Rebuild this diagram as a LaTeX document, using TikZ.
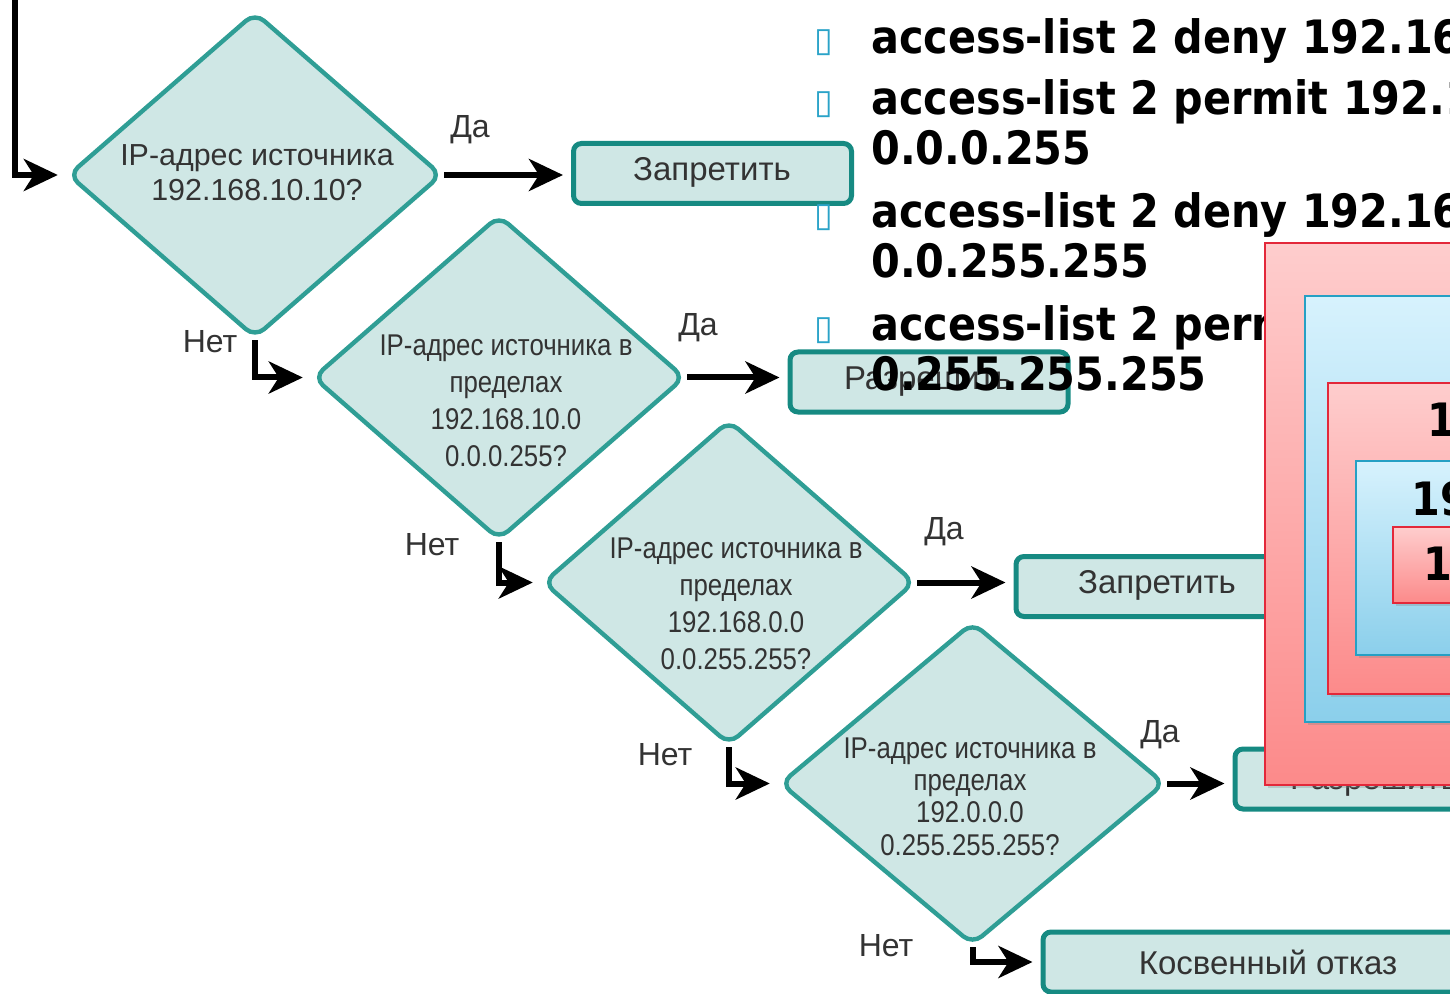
\documentclass[tikz,border=0pt]{standalone}
\usepackage{fontspec}
\setmainfont{Liberation Sans}
\newfontfamily\narrowf[FakeStretch=0.86]{Liberation Sans}
\newfontfamily\aclf[FakeStretch=0.9]{DejaVu Sans}
\newfontfamily\symf{DejaVu Sans}
\usetikzlibrary{shapes.geometric,arrows.meta,shadows}
\definecolor{dfill}{HTML}{CFE7E5}
\definecolor{dline}{HTML}{2F9E95}
\definecolor{bline}{HTML}{168A82}
\definecolor{txt}{HTML}{333333}
\definecolor{redtop}{HTML}{FECDCD}
\definecolor{redbot}{HTML}{FC8A8A}
\definecolor{redline}{HTML}{E3283A}
\definecolor{bluetop}{HTML}{D7F2FD}
\definecolor{bluebot}{HTML}{8BCFEB}
\definecolor{blueline}{HTML}{26A0C4}
\definecolor{bulletc}{HTML}{2AA3C8}
\begin{document}
\begin{tikzpicture}[x=0.5pt,y=-0.5pt,
  decision/.style={diamond, draw=dline, line width=2.2pt, fill=dfill, rounded corners=6pt, inner sep=0pt},
  dtext/.style={text=txt, align=center, inner sep=0pt, font=\fontsize{15}{18.5}\selectfont\narrowf},
  outbox/.style={draw=bline, line width=2.5pt, fill=dfill, rounded corners=4pt, inner sep=0pt,
     minimum width=139pt, minimum height=30pt},
  btext/.style={text=txt, inner sep=0pt, font=\fontsize{16.5}{19}\selectfont},
  flow/.style={line width=3pt, -{Stealth[length=17pt,width=16pt,inset=5pt]}, shorten >=4pt},
  ans/.style={text=txt, font=\fontsize{16}{18}\selectfont, inner sep=0pt},
  acl/.style={anchor=base west, inner sep=0pt, font=\fontsize{23}{25}\selectfont\aclf\bfseries},
  bul/.style={anchor=base west, inner sep=0pt, text=bulletc, font=\fontsize{17}{19}\selectfont\symf},
  redbox/.style={top color=redtop, bottom color=redbot, draw=redline, line width=0.8pt,
     drop shadow={shadow xshift=1.5pt, shadow yshift=-1.5pt, opacity=0.3}},
  bluebox/.style={top color=bluetop, bottom color=bluebot, draw=blueline, line width=0.8pt,
     drop shadow={shadow xshift=1.5pt, shadow yshift=-1.5pt, opacity=0.3}},
]
\useasboundingbox (0,0) rectangle (1450,994);
\clip (0,0) rectangle (1450,994);

% decisions
\node[decision, minimum width=187pt, minimum height=163pt] (d1) at (255,175) {};
\node[decision, minimum width=186pt, minimum height=162.5pt] (d2) at (499,377.5) {};
\node[decision, minimum width=186pt, minimum height=162.5pt] (d3) at (729,582.5) {};
\node[decision, minimum width=192.5pt, minimum height=161.5pt] (d4) at (972.5,783.5) {};

\node[dtext, font=\fontsize{15.2}{17.5}\selectfont] (t1) at (257,172.5) {IP-адрес источника\\192.168.10.10?};
\node[dtext] (t2) at (506,400.5) {IP-адрес источника в\\пределах\\192.168.10.0\\0.0.0.255?};
\node[dtext] (t3) at (736,604) {IP-адрес источника в\\пределах\\192.168.0.0\\0.0.255.255?};
\node[dtext, font=\fontsize{15}{16.2}\selectfont\narrowf] (t4) at (970,796.5) {IP-адрес источника в\\пределах\\192.0.0.0\\0.255.255.255?};

% outcome boxes
\node[outbox] (b1) at (712.5,173.5) {};
\node[btext] (bt1) at (712,172) {Запретить};
\node[outbox] (b2) at (929,382) {};
\node[btext] (bt2) at (928,382) {Разрешить};
\node[outbox] (b3) at (1155,586.5) {};
\node[btext] (bt3) at (1157,585) {Запретить};
\node[outbox] (b4) at (1374,779) {};
\node[btext] (bt4) at (1374,782) {Разрешить};
\node[outbox, minimum width=225pt] (b5) at (1268,962) {};
\node[btext] (bt5) at (1268,962) {Косвенный отказ};

% connectors
\coordinate (entry) at (15,-10);
\draw[flow] (entry) |- (d1.west);
\draw[flow] (d1.east) -- (d1.east -| b1.west);
\draw[flow] (d2.east) -- (d2.east -| b2.west);
\draw[flow] (d3.east) -- (d3.east -| b3.west);
\draw[flow] (d4.east) -- (d4.east -| b4.west);
\draw[flow] (d1.south) |- (d2.west);
\draw[flow] (d2.south) |- (d3.west);
\draw[flow] (d3.south) |- (d4.west);
\draw[flow] (d4.south) |- (b5.west);

% answer labels
\node[ans] (y1) at (470,130) {Да};
\node[ans] (y2) at (698,328) {Да};
\node[ans] (y3) at (944,532) {Да};
\node[ans] (y4) at (1160,735) {Да};
\node[ans] (n1) at (210,342) {Нет};
\node[ans] (n2) at (432,545) {Нет};
\node[ans] (n3) at (665,755) {Нет};
\node[ans] (n4) at (886,946) {Нет};

% access list text
\node[bul] (p1) at (814,52) {▯};
\node[bul] (p2) at (814,114) {▯};
\node[bul] (p3) at (814,227) {▯};
\node[bul] (p4) at (814,340) {▯};
\node[acl] (l1) at (871,54) {access-list 2 deny 192.16};
\node[acl] (l2) at (871,115) {access-list 2 permit 192.1};
\node[acl] (l2b) at (871,165) {0.0.0.255};
\node[acl] (l3) at (871,228) {access-list 2 deny 192.16};
\node[acl] (l3b) at (871,278) {0.0.255.255};
\node[acl] (l4) at (871,341) {access-list 2 permit};
\node[acl] (l4b) at (871,391) {0.255.255.255};

% nested ranges
\path[redbox] (1265,243) rectangle (1480,785);
\path[bluebox] (1305,296) rectangle (1480,722);
\path[redbox] (1328,383) rectangle (1480,694);
\path[bluebox] (1356,461) rectangle (1480,655);
\path[redbox] (1393,527) rectangle (1480,603);
\node[acl] (r1) at (1427,437) {1};
\node[acl] (r2) at (1411,515) {19};
\node[acl] (r3) at (1423,580) {1};
\end{tikzpicture}
\end{document}
